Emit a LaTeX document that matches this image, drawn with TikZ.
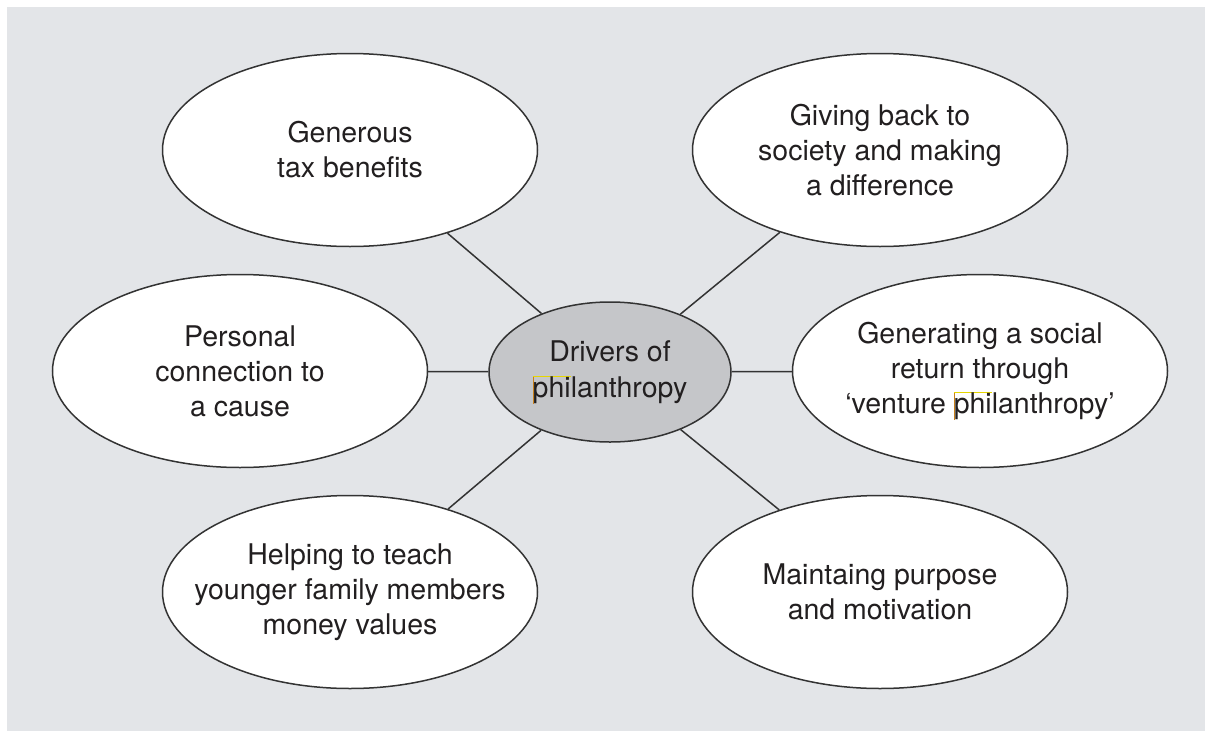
\documentclass[tikz,border=0pt]{standalone}
\usepackage{fontspec}
\setmainfont{TeX Gyre Heros}
\usetikzlibrary{shapes.geometric}
\definecolor{canvas}{HTML}{E3E5E8}
\definecolor{hubfill}{HTML}{C5C6C9}
\definecolor{ink}{HTML}{221F20}
\definecolor{edge}{HTML}{333333}
\definecolor{markyellow}{HTML}{E6D600}
\definecolor{markorange}{HTML}{C8801A}

% thin selection marks around a piece of text
\newcommand\selmark[1]{\begingroup\setbox0\hbox{#1}%
  \makebox[0pt][l]{\textcolor{markorange}{\rule[-0.22em]{1.6pt}{0.98em}}}%
  \makebox[0pt][l]{\textcolor{markyellow}{\rule[0.72em]{\wd0}{1.1pt}}}%
  \box0\endgroup}

\begin{document}
\begin{tikzpicture}[x=1pt,y=-1pt,
  bubble/.style={ellipse, draw=edge, line width=1.5pt, fill=white,
    minimum width=375pt, minimum height=193pt, inner xsep=-45pt,
    align=center, text=ink, font=\fontsize{28.5}{35}\selectfont},
  hub/.style={bubble, fill=hubfill, minimum width=242pt, minimum height=140pt,
    inner xsep=-20pt, font=\fontsize{28.5}{36}\selectfont},
  spoke/.style={draw=edge, line width=1.5pt}]

% page and panel
\fill[white] (0,0) rectangle (1205,731);
\fill[canvas] (7,7) rectangle (1205,731);

% central topic
\node[hub] (hub) at (610,372) {Drivers of\\\selmark{phi}lanthropy};

% surrounding drivers
\node[bubble] (tax)     at (350,150) {Generous\\tax benefits};
\node[bubble] (society) at (880,150) {Giving back to\\society and making\\a difference};
\node[bubble] (cause)   at (240,371) {Personal\\connection to\\a cause};
\node[bubble] (venture) at (980,371) {Generating a social\\return through\\`venture \selmark{phi}lanthropy'};
\node[bubble] (family)  at (350,592) {Helping to teach\\younger family members\\money values};
\node[bubble] (purpose) at (880,592) {Maintaing purpose\\and motivation};

% spokes
\foreach \n in {tax,society,cause,venture,family,purpose}
  \draw[spoke] (hub) -- (\n);
\end{tikzpicture}
\end{document}
